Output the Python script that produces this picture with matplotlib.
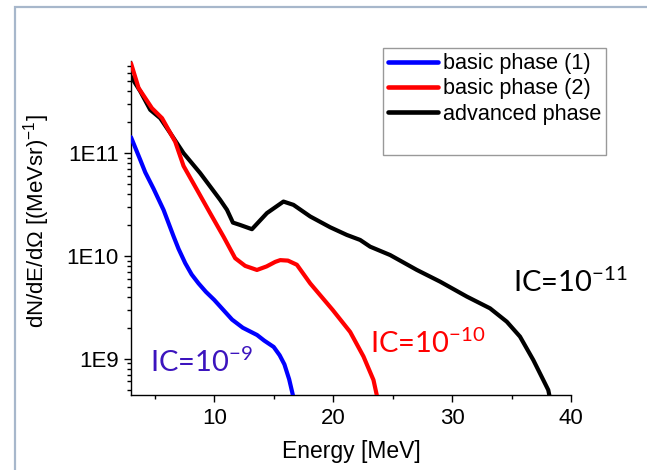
import numpy as np
import matplotlib
matplotlib.use('Agg')
import matplotlib.pyplot as plt
from matplotlib.lines import Line2D
from matplotlib.patches import Rectangle
from matplotlib.ticker import LogLocator, MultipleLocator, FuncFormatter, NullFormatter

plt.rcParams['font.family'] = ['Liberation Sans', 'DejaVu Sans']
plt.rcParams['mathtext.default'] = 'regular'

# spectra for the three laser phases (energy in MeV, dN/dE/dOmega)
energy_b1 = [3.0, 3.78, 4.2, 4.9, 5.74, 6.58, 7.0, 7.56, 8.1, 8.68, 9.3, 10.0,
             11.5, 12.4, 13.6, 14.2, 15.0, 15.5, 15.9, 16.3, 16.7]
flux_b1 = [1.43e11, 8.6e10, 6.5e10, 4.5e10, 2.8e10, 1.55e10, 1.17e10, 8.5e9,
           6.6e9, 5.4e9, 4.47e9, 3.73e9, 2.4e9, 2.0e9, 1.7e9, 1.5e9, 1.3e9,
           1.08e9, 8.8e8, 6.3e8, 4.0e8]

energy_b2 = [3.0, 3.64, 4.76, 5.61, 6.72, 7.42, 8.55, 9.66, 10.78, 11.76,
             12.6, 13.59, 14.4, 15.13, 15.55, 16.2, 16.95, 18.07, 19.96,
             21.43, 22.55, 23.39, 23.75]
flux_b2 = [7.5e11, 4.3e11, 2.74e11, 2.19e11, 1.29e11, 7.5e10, 4.4e10, 2.6e10,
           1.54e10, 9.5e9, 8.0e9, 7.3e9, 7.9e9, 8.75e9, 9.1e9, 9.0e9, 8.2e9,
           5.4e9, 2.98e9, 1.82e9, 1.05e9, 6.2e8, 4.0e8]

energy_adv = [3.0, 3.78, 4.62, 5.46, 6.30, 7.42, 8.82, 10.50, 11.07, 11.57,
              12.18, 13.17, 14.43, 15.82, 16.66, 18.07, 19.75, 21.15, 22.27,
              23.11, 24.79, 27.03, 28.99, 31.24, 33.19, 34.60, 35.71, 36.83,
              37.67, 38.09, 38.25]
flux_adv = [5.57e11, 4.0e11, 2.64e11, 2.19e11, 1.57e11, 1.0e11, 6.39e10,
            3.51e10, 2.81e10, 2.11e10, 2.0e10, 1.82e10, 2.61e10, 3.38e10,
            3.14e10, 2.42e10, 1.90e10, 1.60e10, 1.43e10, 1.23e10, 1.02e10,
            7.31e9, 5.62e9, 4.02e9, 3.09e9, 2.29e9, 1.64e9, 9.7e8, 6.2e8,
            4.95e8, 4.0e8]

legend_labels = ['basic phase (1)', 'basic phase (2)', 'advanced phase']

fig = plt.figure(figsize=(6.47, 4.70), dpi=100)
ax = fig.add_axes([131 / 647, 1 - 395 / 470, 440 / 647, 334.3 / 470])

lw = 3.0
ax.plot(energy_adv, flux_adv, color='black', lw=lw, solid_capstyle='round', zorder=2)
ax.plot(energy_b2, flux_b2, color='red', lw=lw, solid_capstyle='round', zorder=3)
ax.plot(energy_b1, flux_b1, color='blue', lw=lw, solid_capstyle='round', zorder=4)

ax.set_yscale('log')
ax.set_xlim(3, 40)
ax.set_ylim(4.43e8, 7.94e11)

ax.xaxis.set_major_locator(MultipleLocator(10))
ax.xaxis.set_minor_locator(MultipleLocator(5))
ax.yaxis.set_major_locator(LogLocator(base=10))
ax.yaxis.set_minor_locator(LogLocator(base=10, subs=np.arange(2, 10)))
ax.yaxis.set_major_formatter(FuncFormatter(lambda v, pos: f'1E{int(round(np.log10(v)))}'))
ax.yaxis.set_minor_formatter(NullFormatter())

ax.tick_params(which='major', direction='out', length=5, width=1, labelsize=16, pad=4)
ax.tick_params(which='minor', direction='out', length=3, width=1)
for side in ('top', 'right'):
    ax.spines[side].set_visible(False)
for side in ('left', 'bottom'):
    ax.spines[side].set_linewidth(1)

ax.set_xlabel('Energy [MeV]', fontsize=16.5)
ax.set_ylabel('dN/dE/dΩ [(MeVsr)$^{-1}$]', fontsize=16)
ax.xaxis.set_label_coords(0.5, -0.135)
ax.yaxis.set_label_coords(-0.18, 0.52)

# isotropic-contrast labels next to each curve
ax.text(4.62, 7.5e8, r'IC=10$^{-9}$', family='Lato', fontsize=21, color='#3c14be',
        ha='left', va='baseline')
ax.text(23.11, 1.13e9, r'IC=10$^{-10}$', family='Lato', fontsize=21, color='red',
        ha='left', va='baseline')
ax.text(35.15, 4.49e9, r'IC=10$^{-11}$', family='Lato', fontsize=21, color='black',
        ha='left', va='baseline')

handles = [Line2D([], [], color=c, lw=3.3, solid_capstyle='round')
           for c in ('blue', 'red', 'black')]
handles.append(Line2D([], [], color='none'))
leg = fig.legend(handles, legend_labels + [' '], loc='upper left',
                 bbox_to_anchor=(382.7 / 647, 1 - 48.3 / 470), frameon=True,
                 fancybox=False, edgecolor='#999999', framealpha=1, fontsize=15.6,
                 handlelength=2.3, handletextpad=0.25, labelspacing=0.19,
                 borderpad=0.23, borderaxespad=0)
leg.get_frame().set_linewidth(1.0)

# slide frame
fig.patches.append(Rectangle((14.5 / 647, -0.1), 1.2, 1.1 - 7.4 / 470,
                             transform=fig.transFigure, fill=False,
                             edgecolor='#a7b7cb', lw=1.6))

fig.savefig('out.png', dpi=100)
